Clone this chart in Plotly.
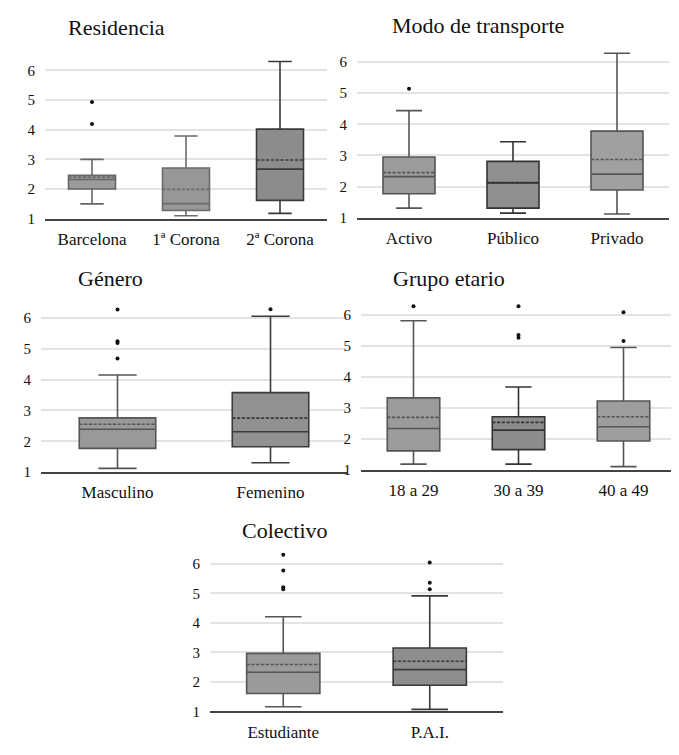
import plotly.graph_objects as go

# Residencia
res_cats = ["Barcelona", "1ª Corona", "2ª Corona"]
res_low = [1.5, 1.1, 1.18]
res_q1 = [2.0, 1.28, 1.62]
res_med = [2.32, 1.51, 2.67]
res_mean = [2.4, 1.99, 2.98]
res_q3 = [2.46, 2.71, 4.02]
res_high = [3.0, 3.79, 6.3]
res_out_x = ["Barcelona", "Barcelona"]
res_out_y = [4.93, 4.19]

# Modo de transporte
mod_cats = ["Activo", "Público", "Privado"]
mod_low = [1.31, 1.15, 1.12]
mod_q1 = [1.77, 1.31, 1.89]
mod_med = [2.32, 2.12, 2.4]
mod_mean = [2.45, 2.13, 2.87]
mod_q3 = [2.95, 2.81, 3.78]
mod_high = [4.44, 3.44, 6.28]
mod_out_x = ["Activo"]
mod_out_y = [5.14]

# Género
gen_cats = ["Masculino", "Femenino"]
gen_low = [1.12, 1.3]
gen_q1 = [1.77, 1.82]
gen_med = [2.39, 2.31]
gen_mean = [2.55, 2.75]
gen_q3 = [2.76, 3.58]
gen_high = [4.15, 6.06]
gen_out_x = ["Masculino", "Masculino", "Masculino", "Masculino", "Femenino"]
gen_out_y = [6.28, 5.25, 5.19, 4.69, 6.29]

# Grupo etario
edad_cats = ["18 a 29", "30 a 39", "40 a 49"]
edad_low = [1.19, 1.19, 1.11]
edad_q1 = [1.62, 1.66, 1.94]
edad_med = [2.34, 2.29, 2.4]
edad_mean = [2.7, 2.54, 2.72]
edad_q3 = [3.33, 2.72, 3.23]
edad_high = [5.82, 3.68, 4.96]
edad_out_x = ["18 a 29", "30 a 39", "30 a 39", "30 a 39", "40 a 49", "40 a 49"]
edad_out_y = [6.29, 6.29, 5.36, 5.27, 6.1, 5.17]

# Colectivo
col_cats = ["Estudiante", "P.A.I."]
col_low = [1.16, 1.07]
col_q1 = [1.61, 1.89]
col_med = [2.33, 2.42]
col_mean = [2.59, 2.7]
col_q3 = [2.97, 3.15]
col_high = [4.21, 4.92]
col_out_x = ["Estudiante", "Estudiante", "Estudiante", "Estudiante", "P.A.I.", "P.A.I.", "P.A.I."]
col_out_y = [6.31, 5.78, 5.21, 5.14, 6.05, 5.36, 5.14]

W, H = 679, 755
FONT = "Liberation Serif"

# fill / line per box, lighter and darker greys like the source image
panels = [
    dict(title="Residencia", cats=res_cats, low=res_low, q1=res_q1, med=res_med, mean=res_mean,
         q3=res_q3, high=res_high, ox=res_out_x, oy=res_out_y,
         fills=["#9a9a9a", "#979797", "#8c8c8c"], lines=["#666666", "#6a6a6a", "#3a3a3a"],
         x0=37, x1=319, bottom=213, top=51, tx=58, ty=20),
    dict(title="Modo de transporte", cats=mod_cats, low=mod_low, q1=mod_q1, med=mod_med, mean=mod_mean,
         q3=mod_q3, high=mod_high, ox=mod_out_x, oy=mod_out_y,
         fills=["#9b9b9b", "#8f8f8f", "#a0a0a0"], lines=["#555555", "#333333", "#555555"],
         x0=349, x1=661, bottom=212, top=42, tx=382, ty=18),
    dict(title="Género", cats=gen_cats, low=gen_low, q1=gen_q1, med=gen_med, mean=gen_mean,
         q3=gen_q3, high=gen_high, ox=gen_out_x, oy=gen_out_y,
         fills=["#999999", "#919191"], lines=["#555555", "#3a3a3a"],
         x0=33, x1=339, bottom=469, top=301, tx=68, ty=273),
    dict(title="Grupo etario", cats=edad_cats, low=edad_low, q1=edad_q1, med=edad_med, mean=edad_mean,
         q3=edad_q3, high=edad_high, ox=edad_out_x, oy=edad_out_y,
         fills=["#9b9b9b", "#8c8c8c", "#9d9d9d"], lines=["#555555", "#333333", "#555555"],
         x0=353, x1=668, bottom=467, top=298, tx=383, ty=273),
    dict(title="Colectivo", cats=col_cats, low=col_low, q1=col_q1, med=col_med, mean=col_mean,
         q3=col_q3, high=col_high, ox=col_out_x, oy=col_out_y,
         fills=["#9a9a9a", "#8e8e8e"], lines=["#555555", "#3a3a3a"],
         x0=202, x1=495, bottom=711, top=550, tx=232, ty=528),
]

fig = go.Figure()
annotations = []
layout = {}

for i, p in enumerate(panels):
    n = i + 1
    xa = "x" if n == 1 else "x%d" % n
    ya = "y" if n == 1 else "y%d" % n
    for j, c in enumerate(p["cats"]):
        fig.add_trace(go.Box(
            x=[c], q1=[p["q1"][j]], median=[p["med"][j]], q3=[p["q3"][j]],
            lowerfence=[p["low"][j]], upperfence=[p["high"][j]], mean=[p["mean"][j]],
            boxmean=True, boxpoints=False, width=0.5, whiskerwidth=0.5,
            fillcolor=p["fills"][j], line=dict(color=p["lines"][j], width=1.6),
            xaxis=xa, yaxis=ya, showlegend=False, hoverinfo="skip",
        ))
    fig.add_trace(go.Scatter(
        x=p["ox"], y=p["oy"], mode="markers",
        marker=dict(color="#111111", size=4),
        xaxis=xa, yaxis=ya, showlegend=False, cliponaxis=False, hoverinfo="skip",
    ))

    key = "" if n == 1 else str(n)
    layout["xaxis" + key] = dict(
        domain=[p["x0"] / W, p["x1"] / W], anchor=ya,
        type="category", categoryorder="array", categoryarray=p["cats"],
        range=[-0.5, len(p["cats"]) - 0.5],
        showgrid=False, showline=True, linecolor="#444444", linewidth=1.5,
        ticks="", tickfont=dict(family=FONT, size=17, color="#111111"),
        ticklabelstandoff=4, zeroline=False,
    )
    layout["yaxis" + key] = dict(
        domain=[1 - p["bottom"] / H, 1 - p["top"] / H], anchor=xa,
        range=[1, 6.4], tickvals=[1, 2, 3, 4, 5, 6],
        showgrid=True, gridcolor="#e3e3e3", gridwidth=1.5,
        showline=False, zeroline=False, ticks="",
        tickfont=dict(family=FONT, size=15, color="#111111"),
        ticklabelstandoff=9,
    )
    annotations.append(dict(
        text=p["title"], x=p["tx"] / W, y=1 - p["ty"] / H,
        xref="paper", yref="paper", xanchor="left", yanchor="middle",
        showarrow=False, font=dict(family=FONT, size=22, color="#111111"),
    ))

fig.update_layout(
    width=W, height=H,
    margin=dict(l=0, r=0, t=0, b=0),
    paper_bgcolor="white", plot_bgcolor="white",
    annotations=annotations,
    boxmode="overlay",
    **layout,
)

fig.write_html("out.html")
